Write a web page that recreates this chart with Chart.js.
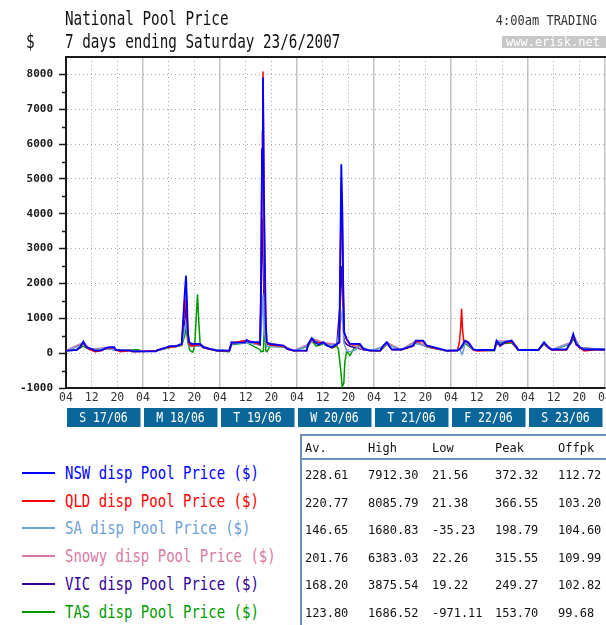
<!DOCTYPE html>
<html>
<head>
<meta charset="utf-8">
<script src="https://cdn.jsdelivr.net/npm/chart.js@4.4.1/dist/chart.umd.min.js"></script>
<style>
  html, body { margin: 0; padding: 0; background: #fff; }
  body { width: 606px; height: 625px; overflow: hidden; position: relative;
         font-family: "DejaVu Sans Mono", monospace; color: #111; }
  #chart { position: absolute; left: 0; top: 0; }
  .txt { position: absolute; white-space: nowrap; transform-origin: 0 50%; }
  .big { font-size: 14.3px; line-height: 16px; height: 16px; transform: scaleY(1.4); }
  #trading { font-size: 12px; line-height: 14px; height: 14px; right: 9px; top: 13px;
             color: #333; transform: scaleY(1.2); transform-origin: 100% 50%; }
  #site { position: absolute; left: 502px; top: 36px; width: 100px; height: 12px; padding-left: 4px;
          background: #c8c8c8; color: #fff; font-size: 12px; line-height: 12px; }
  .leg-line { position: absolute; left: 22px; width: 33px; height: 2px; }
  .leg-text { font-size: 14px; line-height: 16px; height: 16px; transform: scaleY(1.25); left: 65px; }
  #stats { position: absolute; left: 300px; top: 434px; width: 320px; height: 200px;
           border-left: 2px solid #6a94c0; border-top: 2px solid #6a94c0; }
  #stats .sep { position: absolute; left: 0; top: 22px; width: 100%; height: 2px; background: #6a94c0; }
  .cell { position: absolute; font-size: 12px; line-height: 14px; height: 14px; white-space: nowrap;
          transform: scaleY(1.08); color: #111; }
</style>
</head>
<body>
<canvas id="chart" width="606" height="440"></canvas>
<div class="txt big" style="left:65px;top:10px">National Pool Price</div>
<div class="txt big" style="left:26px;top:33px">$</div>
<div class="txt big" style="left:65px;top:33px">7 days ending Saturday 23/6/2007</div>
<div class="txt" id="trading">4:00am TRADING</div>
<div id="site">www.erisk.net</div>
<div id="legend"></div>
<div id="stats"><div class="sep"></div></div>
<script>
// hours counted from Sunday 17/06 04:00 (trading day start) to Sunday 24/06 04:00
const xTicks = [0, 8, 16, 24, 32, 40, 48, 56, 64, 72, 80, 88, 96, 104, 112, 120, 128, 136, 144, 152, 160, 168];
const hourLabels = ["04", "12", "20"];
const yTicks = [-1000, -500, 0, 500, 1000, 1500, 2000, 2500, 3000, 3500, 4000, 4500, 5000, 5500, 6000, 6500, 7000, 7500, 8000];
const dayLabels = ["S 17/06", "M 18/06", "T 19/06", "W 20/06", "T 21/06", "F 22/06", "S 23/06"];

const seriesNames = ["NSW", "QLD", "SA", "Snowy", "VIC", "TAS"];
const seriesColors = ["#0000ff", "#ff0000", "#6fa0d8", "#d77aa5", "#330099", "#009900"];

// [hour, $/MWh]
const nsw = [[0,75],[1.5,80],[3.3,95],[4.4,170],[5.4,330],[6.4,170],[7.5,140],[9,75],[11,80],[12.7,160],[13.7,175],[15,170],[15.5,100],[17,80],[19.9,80],[21,50],[24,50],[28,50],[28.3,80],[31.4,170],[32.4,200],[34.5,200],[35.5,250],[36.05,260],[36.6,1080],[37.0,1700],[37.4,2224],[37.7,1460],[38.0,600],[38.4,315],[39.2,265],[41.8,265],[42.8,170],[44.9,123],[47,75],[48,70],[50.9,70],[51.6,315],[52.5,300],[55.8,310],[56.3,380],[57.3,315],[60,315],[60.5,265],[60.8,2030],[61.1,5850],[61.4,7912],[61.7,4610],[62.0,2500],[62.3,800],[62.6,315],[63.6,265],[67.8,220],[69,123],[71,75],[75,75],[75.5,265],[76.6,430],[77.6,315],[78.7,240],[80.2,315],[81.3,220],[82.9,170],[84.4,265],[85.2,315],[85.5,2890],[85.8,5420],[86.1,4230],[86.4,2030],[86.7,600],[87.5,410],[88.5,265],[91.6,265],[92.7,123],[94.8,75],[97.9,75],[98.9,220],[100,315],[101,170],[101.6,105],[104.5,105],[108.3,220],[109,360],[111.3,360],[112.4,220],[114.5,170],[116.6,123],[118.6,75],[122,75],[122.8,123],[124.4,360],[125.4,315],[127,105],[128,90],[133.5,90],[134.2,360],[135.3,220],[136.8,315],[138.9,360],[140.5,170],[141,90],[147.2,90],[149,315],[150.3,170],[151.4,105],[156,105],[157.3,315],[158.1,550],[159,265],[160.2,170],[161.5,105],[168,105]];
const qld = [[0,70],[3.3,90],[4.4,160],[5.4,300],[6.4,160],[7.5,100],[9,40],[11,70],[12.7,150],[15,160],[15.5,90],[17,40],[19.9,75],[21,45],[24,45],[28.3,75],[31.4,160],[34.5,190],[35.5,240],[36.05,250],[36.6,900],[37.1,1507],[37.4,1400],[37.7,1000],[38.0,450],[38.4,250],[39.2,200],[41.8,250],[42.8,150],[44.9,110],[47,70],[50.9,65],[51.6,290],[56.3,360],[60.5,250],[60.8,2030],[61.1,5850],[61.4,8086],[61.7,4700],[62.0,2000],[62.3,800],[62.6,300],[63.6,230],[67.8,200],[69,110],[71,70],[75,70],[75.5,240],[76.6,400],[77.6,300],[80.2,300],[82.9,150],[84.4,250],[85.2,300],[85.5,2500],[85.8,4300],[86.1,4200],[86.4,1800],[86.7,600],[87.5,380],[88.5,250],[91.6,240],[92.7,110],[94.8,70],[97.9,70],[98.9,200],[100,300],[101,160],[101.6,100],[104.5,100],[108.3,200],[109,330],[111.3,340],[112.4,200],[114.5,150],[116.6,110],[118.6,70],[122,70],[122.6,300],[123.0,700],[123.3,1270],[123.6,690],[124,300],[124.4,340],[125.4,290],[127,95],[128,60],[133.5,80],[134.2,330],[135.3,200],[136.8,300],[138.9,330],[140.5,150],[141,80],[147.2,80],[149,290],[150.3,150],[151.4,90],[156,90],[157.3,290],[158.1,500],[159,240],[160.2,150],[161.5,60],[165,100],[168,95]];
const sa = [[0,70],[5.4,250],[7.5,100],[12.7,140],[15.5,90],[21,45],[28.3,70],[32.4,170],[36.05,230],[37.0,700],[37.4,900],[38.0,400],[38.4,200],[41.8,200],[44.9,110],[50.9,60],[51.6,260],[56.3,300],[60.5,240],[61.0,900],[61.4,1680],[61.8,600],[62.6,200],[67.8,180],[71,65],[75.5,220],[76.6,350],[80.2,260],[84.4,220],[85.6,900],[86.1,1200],[86.6,300],[87.5,60],[88.5,40],[90,80],[91.6,200],[94.8,65],[98.9,190],[100,260],[104.5,95],[109,300],[112.4,180],[118.6,65],[122.8,100],[123.4,-35],[124.0,120],[124.4,330],[127,95],[133.5,80],[134.2,330],[138.9,330],[141,80],[147.2,80],[149,280],[151.4,95],[157.3,280],[158.1,480],[160.2,150],[168,95]];
const snowy = [[0,72],[5.4,310],[7.5,120],[12.7,150],[15.5,95],[21,48],[28.3,75],[32.4,190],[36.05,250],[36.6,1000],[37.4,2000],[37.7,1300],[38.0,550],[38.4,300],[41.8,250],[44.9,115],[50.9,68],[51.6,300],[56.3,370],[60.5,255],[60.8,1800],[61.1,6383],[61.4,5000],[61.7,3000],[62.0,1200],[62.3,500],[62.6,300],[67.8,210],[71,72],[75.5,255],[76.6,420],[80.2,305],[84.4,255],[85.2,300],[85.5,2500],[85.8,5000],[86.1,3500],[86.4,1500],[86.7,500],[87.5,400],[88.5,255],[92.7,115],[97.9,72],[100,305],[104.5,100],[109,350],[112.4,210],[118.6,72],[122.8,115],[124.4,350],[127,100],[133.5,88],[134.2,350],[138.9,350],[141,88],[147.2,88],[149,305],[151.4,100],[157.3,305],[158.1,530],[160.2,165],[168,100]];
const vic = [[0,70],[5.4,280],[7.5,110],[12.7,140],[15.5,90],[21,45],[28.3,70],[32.4,180],[36.05,235],[37.0,900],[37.4,1300],[38.0,450],[38.4,250],[41.8,220],[44.9,110],[50.9,62],[51.6,270],[56.3,320],[60.5,240],[60.8,1500],[61.1,3875],[61.4,3000],[61.7,1500],[62.3,500],[62.6,250],[67.8,190],[71,68],[75.5,230],[76.6,380],[80.2,280],[84.4,230],[85.5,1500],[85.8,2500],[86.1,2000],[86.4,900],[86.7,350],[87.5,250],[88.5,200],[92.7,100],[97.9,68],[100,280],[104.5,95],[109,320],[112.4,190],[118.6,68],[122.8,105],[124.4,320],[127,95],[133.5,82],[134.2,320],[138.9,320],[141,82],[147.2,82],[149,290],[151.4,95],[157.3,290],[158.1,500],[160.2,155],[168,98]];
const tas = [[0,70],[3.3,90],[5.4,200],[7.5,100],[12.7,130],[15.5,90],[19.9,80],[21,95],[22.5,95],[24,45],[28.3,70],[32.4,160],[36.05,220],[37.0,500],[37.4,700],[38.0,300],[38.6,75],[39.5,30],[40.1,200],[40.5,890],[41.0,1686],[41.4,890],[41.8,265],[42.8,160],[44.9,110],[47,70],[50.9,40],[51.6,240],[56.3,300],[60.5,100],[60.8,40],[61.5,60],[61.9,890],[62.3,60],[62.6,40],[63.6,200],[67.8,180],[71,65],[75.5,200],[76.6,350],[78,200],[80.2,260],[82.9,150],[84.4,200],[84.9,123],[85.6,-450],[86.1,-971],[86.6,-850],[86.9,-260],[87.5,75],[88.5,-70],[90,170],[91.6,220],[92.7,110],[97.9,65],[100,260],[104.5,95],[109,280],[111.3,250],[112.4,180],[118.6,65],[122.8,100],[124.4,280],[127,90],[133.5,70],[134.2,250],[138.9,300],[141,80],[147.2,80],[149,250],[151.4,90],[157.3,260],[158.1,400],[160.2,150],[168,95]];
const seriesData = [nsw, qld, sa, snowy, vic, tas];

const statHeaders = ["Av.", "High", "Low", "Peak", "Offpk"];
const statRows = [
  ["228.61", "7912.30", "21.56", "372.32", "112.72"],
  ["220.77", "8085.79", "21.38", "366.55", "103.20"],
  ["146.65", "1680.83", "-35.23", "198.79", "104.60"],
  ["201.76", "6383.03", "22.26", "315.55", "109.99"],
  ["168.20", "3875.54", "19.22", "249.27", "102.82"],
  ["123.80", "1686.52", "-971.11", "153.70", "99.68"],
];

const MONO = "DejaVu Sans Mono";

// legend on the left
const legend = document.getElementById("legend");
seriesNames.forEach((name, i) => {
  const cy = 473 + i * 27.7;
  const line = document.createElement("div");
  line.className = "leg-line";
  line.style.top = (cy - 1) + "px";
  line.style.background = seriesColors[i];
  legend.appendChild(line);
  const text = document.createElement("div");
  text.className = "txt leg-text";
  text.style.top = (cy - 8) + "px";
  text.style.color = seriesColors[i];
  text.textContent = name + " disp Pool Price ($)";
  legend.appendChild(text);
});

// stats table
const stats = document.getElementById("stats");
const colX = [3, 66, 130, 193, 256];
statHeaders.forEach((h, c) => {
  const d = document.createElement("div");
  d.className = "cell";
  d.style.left = colX[c] + "px";
  d.style.top = "5px";
  d.textContent = h;
  stats.appendChild(d);
});
statRows.forEach((row, r) => {
  row.forEach((val, c) => {
    const d = document.createElement("div");
    d.className = "cell";
    d.style.left = colX[c] + "px";
    d.style.top = (32 + r * 27.6) + "px";
    d.textContent = val;
    stats.appendChild(d);
  });
});

const framePlugin = {
  id: "frame",
  afterDraw(chart) {
    const { ctx, chartArea: a, scales: { x, y } } = chart;
    ctx.save();
    ctx.strokeStyle = "#1a1a1a";
    ctx.lineWidth = 2;
    ctx.beginPath();
    ctx.moveTo(a.left - 1, a.top);
    ctx.lineTo(a.right + 1, a.top);
    ctx.stroke();

    // short ticks at the half thousands
    ctx.lineWidth = 1.5;
    ctx.beginPath();
    yTicks.filter((v) => v % 1000 !== 0).forEach((v) => {
      const py = Math.round(y.getPixelForValue(v)) + 0.5;
      ctx.moveTo(a.left - 4, py);
      ctx.lineTo(a.left, py);
    });
    ctx.stroke();

    // day boxes under the hour labels
    const top = a.bottom + 20;
    ctx.font = "11.5px '" + MONO + "'";
    ctx.textAlign = "center";
    ctx.textBaseline = "middle";
    dayLabels.forEach((label, i) => {
      const x0 = x.getPixelForValue(i * 24);
      const x1 = x.getPixelForValue((i + 1) * 24);
      ctx.fillStyle = "#0b6699";
      ctx.fillRect(x0 + 1, top, x1 - x0 - 3.5, 19);
      ctx.fillStyle = "#ffffff";
      ctx.save();
      ctx.translate((x0 + x1) / 2 - 1, top + 10);
      ctx.scale(1, 1.2);
      ctx.fillText(label, 0, 0);
      ctx.restore();
    });
    ctx.restore();
  },
};

new Chart(document.getElementById("chart"), {
  type: "line",
  data: {
    datasets: seriesData.map((points, i) => ({
      label: seriesNames[i],
      data: points,
      borderColor: seriesColors[i],
      backgroundColor: seriesColors[i],
      borderWidth: i === 0 ? 1.8 : 1.5,
      pointRadius: 0,
      tension: 0,
      fill: false,
    })),
  },
  options: {
    responsive: false,
    animation: false,
    devicePixelRatio: 1,
    layout: { padding: { top: 57, right: 1, left: 0, bottom: 0 } },
    plugins: { legend: { display: false }, tooltip: { enabled: false } },
    scales: {
      x: {
        type: "linear",
        min: 0,
        max: 168,
        afterBuildTicks: (scale) => { scale.ticks = xTicks.map((v) => ({ value: v })); },
        afterFit: (scale) => { scale.height = 52; scale.paddingLeft = 0; scale.paddingRight = 0; },
        ticks: {
          autoSkip: false,
          maxRotation: 0,
          padding: 3,
          color: "#333",
          font: { family: MONO, size: 11.5 },
          callback: (v, i) => hourLabels[i % 3],
        },
        grid: {
          drawTicks: false,
          color: (c) => (c.tick && c.tick.value % 24 === 0 ? "#c2c2c2" : "#a8a8a8"),
          lineWidth: (c) => (c.tick && c.tick.value % 24 === 0 ? 1.5 : 1),
        },
        border: {
          color: "#1a1a1a",
          width: 2,
          dash: (c) => (c.tick && c.tick.value % 24 !== 0 ? [1, 3] : []),
        },
      },
      y: {
        min: -1000,
        max: 8500,
        afterBuildTicks: (scale) => { scale.ticks = yTicks.map((v) => ({ value: v })); },
        afterFit: (scale) => { scale.width = 66; scale.paddingTop = 0; scale.paddingBottom = 0; },
        ticks: {
          autoSkip: false,
          padding: 6,
          color: "#1a1a1a",
          font: { family: MONO, size: 11, weight: "bold" },
          callback: (v) => (v % 1000 === 0 ? String(v) : ""),
        },
        grid: {
          tickLength: 7,
          tickWidth: 1.5,
          tickColor: (c) => (c.tick && c.tick.value % 1000 === 0 ? "#1a1a1a" : "rgba(0,0,0,0)"),
          color: (c) => (c.tick && c.tick.value % 1000 === 0 && c.tick.value > -1000 ? "#a8a8a8" : "rgba(0,0,0,0)"),
        },
        border: {
          color: "#1a1a1a",
          width: 2,
          dash: (c) => (c.tick ? [1, 3] : []),
        },
      },
    },
  },
  plugins: [framePlugin],
});
</script>
</body>
</html>
